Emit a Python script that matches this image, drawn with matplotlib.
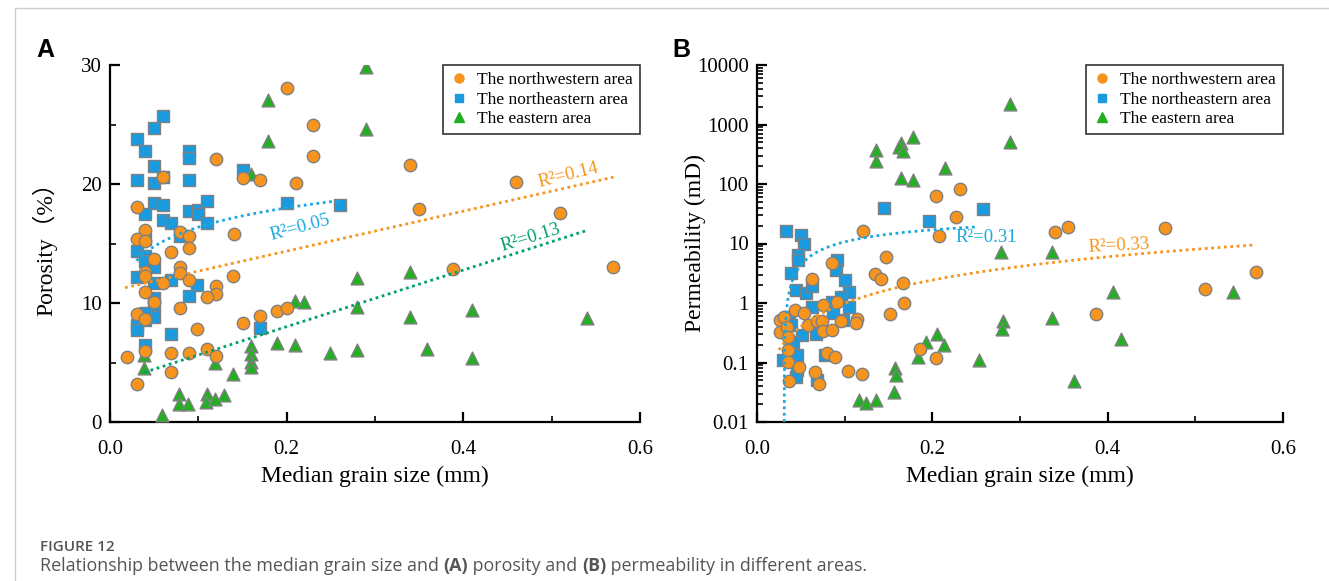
import numpy as np
import matplotlib
matplotlib.use("Agg")
import matplotlib.pyplot as plt
from matplotlib.lines import Line2D
from matplotlib.ticker import MultipleLocator, FixedLocator, LogLocator, NullFormatter, FormatStrFormatter

# ---------------- data: panel A (porosity) ----------------
nw_A_x = [0.200, 0.2295, 0.2295, 0.1197, 0.0597, 0.150, 0.170, 0.210, 0.030, 0.0396, 0.030, 0.0396,
          0.079, 0.0898, 0.140, 0.3397, 0.4598, 0.350, 0.5096, 0.0898, 0.069, 0.0498, 0.0396, 0.0396,
          0.079, 0.079, 0.0597, 0.0898, 0.1397, 0.0396, 0.120, 0.120, 0.1095, 0.0498, 0.030, 0.0396,
          0.079, 0.099, 0.150, 0.170, 0.1895, 0.200, 0.0396, 0.069, 0.0898, 0.1095, 0.120, 0.0196,
          0.069, 0.030, 0.3888, 0.569]
nw_A_y = [28.1, 24.96, 22.35, 22.1, 20.56, 20.5, 20.3, 20.06, 18.07, 16.1, 15.4, 15.2,
          16.0, 15.6, 15.77, 21.6, 20.2, 17.9, 17.56, 14.6, 14.3, 13.7, 12.6, 12.27,
          13.0, 12.5, 11.7, 11.9, 12.27, 10.95, 11.4, 10.76, 10.48, 10.06, 9.08, 8.66,
          9.6, 7.8, 8.3, 8.93, 9.33, 9.6, 6.0, 5.82, 5.82, 6.1, 5.55, 5.44,
          4.23, 3.17, 12.83, 13.05]
ne_A_x = [0.0604, 0.0498, 0.030, 0.0396, 0.0898, 0.0898, 0.0498, 0.030, 0.0498, 0.0604, 0.0898, 0.150,
          0.0498, 0.0604, 0.0396, 0.0604, 0.069, 0.0898, 0.100, 0.100, 0.1095, 0.1095, 0.200, 0.079,
          0.0396, 0.030, 0.2605, 0.0396, 0.0396, 0.0498, 0.030, 0.0498, 0.069, 0.099, 0.0898, 0.0498,
          0.0498, 0.0498, 0.0396, 0.0396, 0.030, 0.030, 0.069, 0.170, 0.0396]
ne_A_y = [25.7, 24.7, 23.75, 22.8, 22.8, 22.16, 21.5, 20.3, 20.06, 20.6, 20.3, 21.2,
          18.4, 18.2, 17.5, 17.0, 16.75, 17.7, 17.8, 17.5, 18.57, 16.7, 18.4, 15.6,
          15.4, 14.4, 18.2, 13.95, 13.5, 13.05, 12.2, 11.65, 11.9, 11.5, 10.6, 10.4,
          9.83, 8.8, 9.2, 8.6, 8.15, 7.73, 7.37, 7.87, 6.47]
e_A_x = [0.179, 0.179, 0.160, 0.2896, 0.2896, 0.2095, 0.2197, 0.1888, 0.2095, 0.160, 0.160, 0.160,
         0.160, 0.119, 0.0389, 0.0389, 0.139, 0.0785, 0.1095, 0.129, 0.0785, 0.0887, 0.1087, 0.119,
         0.0585, 0.2794, 0.3397, 0.2794, 0.3397, 0.4096, 0.540, 0.249, 0.2794, 0.3594, 0.4096]
e_A_y = [27.05, 23.6, 20.8, 29.8, 24.6, 10.17, 10.1, 6.66, 6.5, 6.38, 5.69, 5.07,
         4.65, 4.93, 5.63, 4.56, 4.0, 2.35, 2.35, 2.27, 1.49, 1.49, 1.7, 1.9,
         0.59, 12.13, 12.63, 9.69, 8.8, 9.41, 8.71, 5.77, 6.05, 6.1, 5.35]

# ---------------- data: panel B (permeability) ----------------
nw_B_x = [0.204, 0.2315, 0.2265, 0.208, 0.1212, 0.147, 0.085, 0.1345, 0.142, 0.063, 0.1668, 0.0916,
          0.1676, 0.075, 0.0433, 0.0536, 0.0262, 0.031, 0.0262, 0.0339, 0.0578, 0.068, 0.0745, 0.075,
          0.0859, 0.0958, 0.1137, 0.1125, 0.1517, 0.0357, 0.0357, 0.0795, 0.0889, 0.0357, 0.0482, 0.1034,
          0.12, 0.066, 0.0711, 0.0368, 0.186, 0.2037, 0.340, 0.3543, 0.4652, 0.3865, 0.511, 0.569]
nw_B_y = [63, 83, 28, 13.5, 16, 5.9, 4.75, 3.07, 2.5, 2.5, 2.2, 1.05,
          0.99, 0.92, 0.76, 0.69, 0.52, 0.59, 0.33, 0.40, 0.43, 0.49, 0.50, 0.34,
          0.35, 0.5, 0.54, 0.46, 0.65, 0.27, 0.16, 0.143, 0.122, 0.103, 0.085, 0.072,
          0.063, 0.068, 0.043, 0.048, 0.17, 0.117, 15.5, 18.7, 18.5, 0.645, 1.72, 3.28]
ne_B_x = [0.145, 0.1965, 0.033, 0.0498, 0.054, 0.0471, 0.0471, 0.0916, 0.090, 0.0388, 0.1003, 0.0445,
          0.0555, 0.063, 0.105, 0.0954, 0.063, 0.085, 0.1049, 0.098, 0.0863, 0.0365, 0.0384, 0.0517,
          0.067, 0.0414, 0.0775, 0.046, 0.030, 0.0453, 0.0445, 0.068, 0.2573]
ne_B_y = [39, 24, 16.4, 13.9, 10, 6.4, 5.3, 5.3, 3.6, 3.2, 2.4, 1.65,
          1.45, 1.9, 1.55, 1.28, 0.87, 1.05, 0.87, 0.52, 0.69, 0.59, 0.43, 0.29,
          0.30, 0.22, 0.134, 0.134, 0.11, 0.075, 0.058, 0.051, 38]
e_B_x = [0.1775, 0.1638, 0.162, 0.166, 0.1357, 0.1357, 0.1638, 0.178, 0.2144, 0.2885, 0.2885,
         0.205, 0.1923, 0.2135, 0.184, 0.157, 0.1585, 0.1562, 0.1163, 0.1243, 0.1353,
         0.278, 0.337, 0.4063, 0.543, 0.281, 0.2797, 0.336, 0.4147, 0.2535, 0.3618]
e_B_y = [624, 494, 424, 363, 372, 244, 125, 117, 184, 2190, 500,
         0.30, 0.22, 0.20, 0.125, 0.080, 0.062, 0.032, 0.023, 0.021, 0.023,
         7.3, 7.3, 1.55, 1.55, 0.5, 0.36, 0.55, 0.245, 0.11, 0.049]

# trend-line coefficients
fitA_ne = (21.76, 2.34, 0.030, 0.26)      # y = a + b ln x
fitA_nw = (11.0, 16.8, 0.017, 0.570)      # y = a + b x
fitA_e = (3.25, 23.8, 0.039, 0.538)       # y = a + b x
fitB_ne = (31.6, 9.1, 0.25)               # y = a + b ln x
fitB_nw = (19.7, 1.3, 0.025, 0.568)       # y = c x^p

legend_labels = ["The northwestern area", "The northeastern area", "The eastern area"]

# ---------------- style ----------------
C_OR = "#F7941D"
C_BL = "#1A9BE0"
C_GR = "#22B022"
C_EDGE = "#808080"
L_BL = "#1AA8E0"
L_OR = "#F7941D"
L_GR = "#00A06A"
SERIF = ["Liberation Serif", "Noto Sans CJK SC"]

plt.rcParams["font.family"] = SERIF
fig = plt.figure(figsize=(13.29, 5.81), dpi=100)
W, H = 1329, 581

def px_axes(l, r, t, b):
    return fig.add_axes([l / W, 1 - b / H, (r - l) / W, (b - t) / H])

axA = px_axes(110, 640, 65, 422)
axB = px_axes(757, 1283, 65, 422)

dot = (0, (1, 1.3))

def style(ax):
    for s in ["top", "right"]:
        ax.spines[s].set_visible(False)
    for s in ["left", "bottom"]:
        ax.spines[s].set_linewidth(1.6)
    ax.tick_params(which="major", direction="in", length=7, width=1.6, labelsize=15)
    ax.tick_params(which="minor", direction="in", length=4, width=1.2)
    ax.tick_params(axis="x", which="major", pad=13)
    ax.tick_params(axis="y", which="major", pad=6)
    ax.set_xlim(0, 0.6)
    ax.xaxis.set_major_locator(MultipleLocator(0.2))
    ax.xaxis.set_minor_locator(MultipleLocator(0.1))
    ax.xaxis.set_major_formatter(FormatStrFormatter("%.1f"))
    ax.set_xlabel("Median grain size (mm)", fontsize=17, labelpad=5)

def scatter_all(ax, xs):
    (nx, ny), (bx, by), (gx, gy) = xs
    ax.scatter(bx, by, marker="s", s=70, c=C_BL, edgecolors=C_EDGE, linewidths=1.0, zorder=3)
    ax.scatter(gx, gy, marker="^", s=85, c=C_GR, edgecolors=C_EDGE, linewidths=1.0, zorder=3)
    ax.scatter(nx, ny, marker="o", s=80, c=C_OR, edgecolors=C_EDGE, linewidths=1.0, zorder=3.5)
    handles = [Line2D([], [], ls="none", marker="o", ms=6.5, mfc=C_OR, mec=C_OR),
               Line2D([], [], ls="none", marker="s", ms=6, mfc=C_BL, mec=C_BL),
               Line2D([], [], ls="none", marker="^", ms=7, mfc=C_GR, mec=C_GR)]
    leg = ax.legend(handles, legend_labels, loc="upper right", bbox_to_anchor=(1.0, 1.0),
                    borderaxespad=0, frameon=True, fancybox=False, edgecolor="black",
                    fontsize=12.5, handletextpad=0.5, borderpad=0.4, labelspacing=0.2,
                    handlelength=1.1)
    leg.get_frame().set_linewidth(1.2)
    leg.set_zorder(6)

# ---------------- panel A ----------------
style(axA)
axA.set_ylim(0, 30)
axA.yaxis.set_major_locator(MultipleLocator(10))
axA.yaxis.set_minor_locator(MultipleLocator(5))
axA.set_ylabel("Porosity（%）", fontsize=17)
axA.yaxis.set_label_coords(-0.1, 0.5)
scatter_all(axA, ((nw_A_x, nw_A_y), (ne_A_x, ne_A_y), (e_A_x, e_A_y)))

a, b, x0, x1 = fitA_ne
xx = np.linspace(x0, x1, 200)
axA.plot(xx, a + b * np.log(xx), color=L_BL, lw=2, ls=dot, zorder=4)
a, b, x0, x1 = fitA_nw
xx = np.linspace(x0, x1, 50)
axA.plot(xx, a + b * xx, color=L_OR, lw=2, ls=dot, zorder=4)
a, b, x0, x1 = fitA_e
xx = np.linspace(x0, x1, 50)
axA.plot(xx, a + b * xx, color=L_GR, lw=2, ls=dot, zorder=4)

axA.text(0.215, 16.3, "R²=0.05", color=L_BL, fontsize=13.5, rotation=15, ha="center", va="center", zorder=5)
axA.text(0.519, 20.7, "R²=0.14", color=L_OR, fontsize=13.5, rotation=14, ha="center", va="center", zorder=5)
axA.text(0.476, 15.5, "R²=0.13", color=L_GR, fontsize=13.5, rotation=17, ha="center", va="center", zorder=5)

# ---------------- panel B ----------------
style(axB)
axB.set_yscale("log")
axB.set_ylim(0.01, 10000)
axB.yaxis.set_major_locator(FixedLocator([0.01, 0.1, 1, 10, 100, 1000, 10000]))
axB.yaxis.set_minor_locator(LogLocator(base=10, subs=np.arange(2, 10)))
axB.yaxis.set_minor_formatter(NullFormatter())
axB.set_yticklabels(["0.01", "0.1", "1", "10", "100", "1000", "10000"])
axB.set_ylabel("Permeability (mD)", fontsize=17)
axB.yaxis.set_label_coords(-0.097, 0.5)
scatter_all(axB, ((nw_B_x, nw_B_y), (ne_B_x, ne_B_y), (e_B_x, e_B_y)))

a, b, x1 = fitB_ne
x0 = np.exp((0.01 - a) / b)
xx = x0 + (x1 - x0) * np.linspace(0, 1, 600) ** 3
axB.plot(xx, a + b * np.log(xx), color=L_BL, lw=2, ls=dot, zorder=4)
c, p, x0, x1 = fitB_nw
xx = np.linspace(x0, x1, 200)
axB.plot(xx, c * xx ** p, color=L_OR, lw=2, ls=dot, zorder=4)

axB.text(0.262, 12.4, "R²=0.31", color=L_BL, fontsize=13.5, ha="center", va="center", zorder=5)
axB.text(0.4128, 9.1, "R²=0.33", color=L_OR, fontsize=13.5, rotation=3, ha="center", va="center", zorder=5)

# ---------------- panel letters, frame, caption ----------------
fig.text(45 / W, 1 - 50 / H, "A", fontsize=18, fontweight="bold", family="Liberation Sans", ha="center", va="center")
fig.text(681 / W, 1 - 50 / H, "B", fontsize=18, fontweight="bold", family="Liberation Sans", ha="center", va="center")

fig.add_artist(Line2D([15 / W, 1], [1 - 8 / H, 1 - 8 / H], color="#cccccc", lw=1))
fig.add_artist(Line2D([15 / W, 15 / W], [0, 1 - 8 / H], color="#cccccc", lw=1))

cap_color = "#555555"
fig.text(40 / W, 1 - 547 / H, "FIGURE 12", fontsize=11, color=cap_color, family="Open Sans",
         fontweight="semibold", va="center")
pieces = [("Relationship between the median grain size and ", "normal"), ("(A)", "bold"),
          (" porosity and ", "normal"), ("(B)", "bold"), (" permeability in different areas.", "normal")]
fig.canvas.draw()
r = fig.canvas.get_renderer()
xpos = 40
for txt, wgt in pieces:
    t = fig.text(xpos / W, 1 - 566 / H, txt, fontsize=12.9, color=cap_color, family="Open Sans",
                 fontweight=wgt, va="center")
    bb = t.get_window_extent(renderer=r)
    xpos += bb.width

fig.savefig("out.png", dpi=100)
